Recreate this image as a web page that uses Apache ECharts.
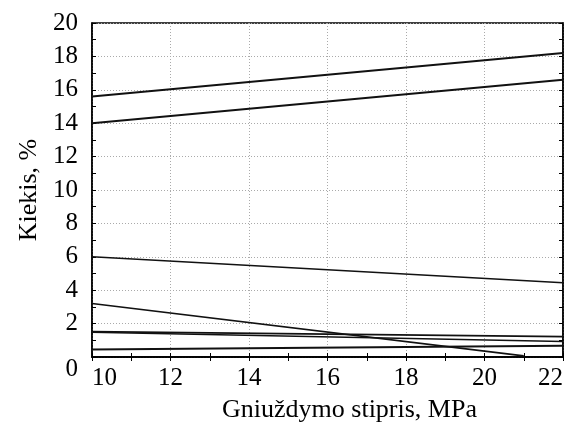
<!DOCTYPE html>
<html>
<head>
<meta charset="utf-8">
<script src="https://cdn.jsdelivr.net/npm/echarts@6/dist/echarts.min.js"></script>
<style>
html,body{margin:0;padding:0;background:#fff;}
#chart{width:575px;height:428px;}
</style>
</head>
<body>
<div id="chart"></div>
<script>
// Data (x = Gniuždymo stipris, MPa; y = Kiekis, %)
var xName = 'Gniuždymo stipris, MPa';
var yName = 'Kiekis, %';
var xTicks = [10, 12, 14, 16, 18, 20, 22];
var yTicks = [0, 2, 4, 6, 8, 10, 12, 14, 16, 18, 20];

var lineA = [[10, 15.6], [22, 18.2]];
var lineB = [[10, 14.0], [22, 16.6]];
var lineC = [[10, 6.0], [22, 4.45]];
var lineD = [[10, 3.2], [21, 0.07]];
var lineE = [[10, 1.52], [22, 1.22]];
var lineF = [[10, 1.48], [22, 0.93]];
var lineG = [[10, 0.45], [22, 0.68]];

var allLines = [lineA, lineB, lineC, lineD, lineE, lineF, lineG];
var widths = [2, 2, 1.6, 1.6, 1.6, 1.6, 2];

var font = 'Liberation Serif, Times New Roman, serif';
var chart = echarts.init(document.getElementById('chart'), null, {renderer: 'canvas'});

var series = allLines.map(function (d, i) {
  return {
    type: 'line',
    data: d,
    xAxisIndex: 0,
    yAxisIndex: 0,
    symbol: 'none',
    silent: true,
    lineStyle: {color: '#111', width: widths[i]},
    z: 3
  };
});

chart.setOption({
  animation: false,
  backgroundColor: '#fff',
  grid: {left: 92, right: 12, top: 23, bottom: 67, show: true, borderColor: '#000', borderWidth: 1.5, backgroundColor: 'transparent'},
  xAxis: [{
    type: 'value', min: xTicks[0], max: xTicks[xTicks.length - 1], interval: 2,
    position: 'bottom',
    name: xName, nameLocation: 'middle', nameGap: 40,
    nameTextStyle: {fontFamily: font, fontSize: 26, color: '#000', padding: [0, 0, 0, 44]},
    axisLine: {show: true, lineStyle: {color: '#000', width: 1.5}},
    axisTick: {show: true, inside: true, length: 4, lineStyle: {color: '#000'}},
    minorTick: {show: true, splitNumber: 2, length: 4, lineStyle: {color: '#000'}},
    axisLabel: {fontFamily: font, fontSize: 25, color: '#000', margin: 9, alignMinLabel: 'left', alignMaxLabel: 'right'},
    splitLine: {show: true, lineStyle: {color: '#aaa', type: [1, 2], width: 1}}
  }, {
    type: 'value', min: xTicks[0], max: xTicks[xTicks.length - 1], interval: 2,
    position: 'top',
    axisLine: {show: true, lineStyle: {color: '#000', width: 1.5}},
    axisTick: {show: true, inside: true, length: 4, lineStyle: {color: '#000'}},
    minorTick: {show: true, splitNumber: 2, length: 4, lineStyle: {color: '#000'}},
    axisLabel: {show: false},
    splitLine: {show: false}
  }],
  yAxis: [{
    type: 'value', min: yTicks[0], max: yTicks[yTicks.length - 1], interval: 2,
    position: 'left',
    name: yName, nameLocation: 'middle', nameGap: 47, nameRotate: 90,
    nameTextStyle: {fontFamily: font, fontSize: 26, color: '#000'},
    axisLine: {show: true, lineStyle: {color: '#000', width: 1.5}},
    axisTick: {show: true, inside: true, length: 4, lineStyle: {color: '#000'}},
    minorTick: {show: true, splitNumber: 2, length: 4, lineStyle: {color: '#000'}},
    axisLabel: {fontFamily: font, fontSize: 25, color: '#000', margin: 14, verticalAlignMinLabel: 'top'},
    splitLine: {show: true, lineStyle: {color: '#aaa', type: [1, 2], width: 1}}
  }, {
    type: 'value', min: yTicks[0], max: yTicks[yTicks.length - 1], interval: 2,
    position: 'right',
    axisLine: {show: true, lineStyle: {color: '#000', width: 1.5}},
    axisTick: {show: true, inside: true, length: 4, lineStyle: {color: '#000'}},
    minorTick: {show: true, splitNumber: 2, length: 4, lineStyle: {color: '#000'}},
    axisLabel: {show: false},
    splitLine: {show: false}
  }],
  series: series
});
</script>
</body>
</html>
